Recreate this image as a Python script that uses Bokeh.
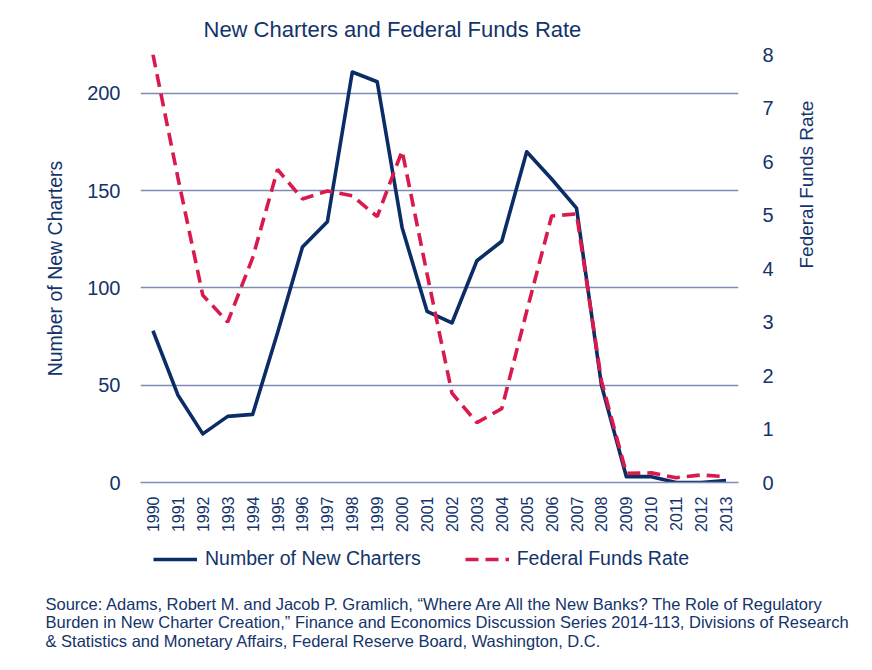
from math import pi
from bokeh.plotting import figure
from bokeh.models import (Range1d, LinearAxis, FactorRange, Legend, Label,
                          LegendItem, FixedTicker, ColumnDataSource)
from bokeh.embed import file_html
from bokeh.resources import INLINE

# ---- data ----
years = ["1990", "1991", "1992", "1993", "1994", "1995", "1996", "1997",
         "1998", "1999", "2000", "2001", "2002", "2003", "2004", "2005",
         "2006", "2007", "2008", "2009", "2010", "2011", "2012", "2013"]
new_charters = [78, 45, 25, 34, 35, 77, 121, 134, 211, 206, 131, 88,
                82, 114, 124, 170, 156, 141, 50, 3, 3, 0, 0, 1]
fed_funds_rate = [8.0, 5.7, 3.5, 3.0, 4.2, 5.85, 5.3, 5.45, 5.36, 4.97, 6.2, 3.9,
                  1.67, 1.12, 1.38, 3.2, 4.98, 5.02, 1.9, 0.17, 0.18, 0.09, 0.14, 0.11]
left_ticks = [0, 50, 100, 150, 200]
right_ticks = [0, 1, 2, 3, 4, 5, 6, 7, 8]

title_text = "New Charters and Federal Funds Rate"
left_label = "Number of New Charters"
right_label = "Federal Funds Rate"
source_lines = [
    "Source: Adams, Robert M. and Jacob P. Gramlich, \u201cWhere Are All the New Banks? The Role of Regulatory",
    "Burden in New Charter Creation,\u201d Finance and Economics Discussion Series 2014-113, Divisions of Research",
    "& Statistics and Monetary Affairs,  Federal Reserve Board, Washington, D.C.",
]

NAVY = "#0b2c66"
RED = "#d81b4c"
GRID = "#7f8db4"
TEXT = "#13336b"
FONT = "Liberation Sans"

src = ColumnDataSource(dict(year=years, charters=new_charters, ffr=fed_funds_rate))

# ================= main chart =================
p = figure(x_range=FactorRange(factors=years, range_padding=0),
           y_range=Range1d(0, 220),
           width=856, height=540,
           output_backend="svg", toolbar_location=None,
           min_border_left=140, min_border_right=118,
           min_border_top=54, min_border_bottom=58)
p.extra_y_ranges = {"ffr": Range1d(0, 8)}
p.outline_line_color = None
p.background_fill_color = "white"
p.border_fill_color = "white"

p.title.text = title_text
p.title.align = "left"
p.title.offset = 63
p.title.standoff = 26
p.title.text_font = FONT
p.title.text_font_size = "22px"
p.title.text_font_style = "normal"
p.title.text_color = TEXT

p.xgrid.grid_line_color = None
p.ygrid.ticker = FixedTicker(ticks=left_ticks)
p.ygrid.grid_line_color = GRID
p.ygrid.grid_line_width = 1.6

ya = p.yaxis[0]
ya.ticker = FixedTicker(ticks=left_ticks)
ya.axis_line_color = None
ya.major_tick_line_color = None
ya.minor_tick_line_color = None
ya.major_tick_out = 0
ya.major_tick_in = 0
ya.major_label_standoff = 20
ya.major_label_text_font = FONT
ya.major_label_text_font_size = "20px"
ya.major_label_text_color = TEXT
ya.axis_label = left_label
ya.axis_label_standoff = 18
ya.axis_label_text_font = FONT
ya.axis_label_text_font_size = "19.5px"
ya.axis_label_text_font_style = "normal"
ya.axis_label_text_color = TEXT

ra = LinearAxis(y_range_name="ffr", ticker=FixedTicker(ticks=right_ticks))
ra.axis_line_color = None
ra.major_tick_line_color = None
ra.minor_tick_line_color = None
ra.major_tick_out = 0
ra.major_tick_in = 0
ra.major_label_standoff = 24
ra.major_label_text_font = FONT
ra.major_label_text_font_size = "20px"
ra.major_label_text_color = TEXT
ra.axis_label = right_label
ra.axis_label_standoff = 30
ra.axis_label_text_font = FONT
ra.axis_label_text_font_size = "19px"
ra.axis_label_text_font_style = "normal"
ra.axis_label_text_color = TEXT
if "axis_label_orientation" in ra.properties():
    ra.axis_label_orientation = pi / 2
p.add_layout(ra, "right")

xa = p.xaxis[0]
xa.major_label_orientation = pi / 2
xa.axis_line_color = GRID
xa.axis_line_width = 1.6
xa.major_tick_line_color = None
xa.minor_tick_line_color = None
xa.major_tick_out = 0
xa.major_tick_in = 0
xa.major_label_standoff = 14
xa.major_label_text_font = FONT
xa.major_label_text_font_size = "16px"
xa.major_label_text_color = TEXT

p.line(x="year", y="charters", source=src, line_color=NAVY, line_width=3.6,
       line_join="round")
p.line(x="year", y="ffr", source=src, y_range_name="ffr", line_color=RED,
       line_width=3.6, line_dash="13 7")

# ================= legend + source strip (separate root, full-width frame) =================
p2 = figure(x_range=FactorRange(factors=years, range_padding=0),
            y_range=Range1d(0, 114), width=856, height=114,
            output_backend="svg", toolbar_location=None,
            x_axis_type=None, y_axis_type=None,
            min_border_left=0, min_border_right=0,
            min_border_top=0, min_border_bottom=0)
p2.extra_y_ranges = {"off": Range1d(1000, 1001)}  # keeps sample lines out of view
p2.outline_line_color = None
p2.grid.grid_line_color = None
p2.background_fill_color = "white"
p2.border_fill_color = "white"

s1 = p2.line(x="year", y="charters", source=src, y_range_name="off",
             line_color=NAVY, line_width=3.6)
s2 = p2.line(x="year", y="ffr", source=src, y_range_name="off",
             line_color=RED, line_width=3.6, line_dash="13 7")

legend = Legend(items=[LegendItem(label=left_label, renderers=[s1]),
                       LegendItem(label=right_label, renderers=[s2])],
                orientation="horizontal", location=(153, 84),
                padding=0, margin=0, spacing=44, glyph_width=44, glyph_height=20,
                label_height=20, label_standoff=8,
                label_text_font=FONT, label_text_font_size="19.5px",
                label_text_color=TEXT, border_line_color=None,
                background_fill_alpha=0)
p2.add_layout(legend)

for i, line in enumerate(source_lines):
    p2.add_layout(Label(x=0, y=51 - 18.5 * i, x_offset=45, text=line,
                        text_align="left", text_baseline="middle",
                        text_font=FONT, text_font_size="16.5px",
                        text_color=TEXT))

open("out.html", "w").write(file_html([p, p2], INLINE))
